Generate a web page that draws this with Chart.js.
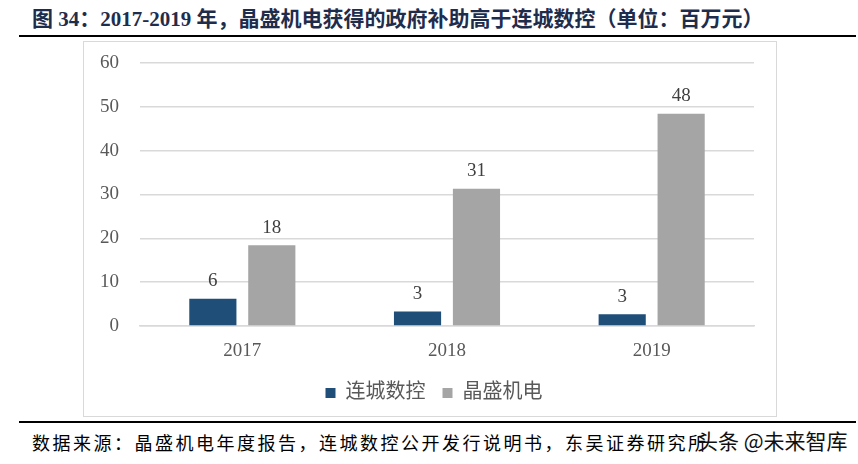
<!DOCTYPE html>
<html>
<head>
<meta charset="utf-8">
<script src="https://cdn.jsdelivr.net/npm/chart.js@4"></script>
<style>
  body { margin: 0; background: #fff; width: 858px; height: 464px; position: relative; overflow: hidden; }
  #title { position: absolute; left: 32px; top: 2px; font: bold 21px 'Liberation Serif', 'Noto Sans CJK SC'; color: #1f2d4d; white-space: nowrap; }
  .rule { position: absolute; left: 19px; right: 2px; height: 2px; background: #000; }
  #frame { position: absolute; left: 83px; top: 41px; width: 694px; height: 376px; border: 1px solid #d9d9d9; box-sizing: border-box; }
  #frame canvas { position: absolute; left: 0; top: 0; }
  #source { position: absolute; left: 32px; top: 429px; font: 18px 'Liberation Serif', 'Noto Sans CJK SC'; letter-spacing: 2.5px; color: #000; white-space: nowrap; }
  #mark { position: absolute; left: 697px; top: 425px; font: 21px 'Noto Sans CJK SC', sans-serif; color: #111; white-space: nowrap; }
</style>
</head>
<body>
<div id="title">图 34：2017-2019 年，晶盛机电获得的政府补助高于连城数控（单位：百万元）</div>
<div class="rule" style="top:35px"></div>
<div id="frame"><canvas id="c" width="692" height="374"></canvas></div>
<div class="rule" style="top:421px"></div>
<div id="source">数据来源：晶盛机电年度报告，连城数控公开发行说明书，东吴证券研究所</div>
<div id="mark">头条 @未来智库</div>
<script>
// data
const years = ['2017', '2018', '2019'];
const lianchengValues = [6.2, 3.3, 2.7];
const jingshengValues = [18.4, 31.3, 48.4];
const seriesNames = ['连城数控', '晶盛机电'];
const yTicks = [0, 10, 20, 30, 40, 50, 60];

const serif = "'Liberation Serif', 'Noto Sans CJK SC'";

// value labels above the bars
const valueLabels = {
    id: 'valueLabels',
    afterDatasetsDraw(chart) {
        const ctx = chart.ctx;
        ctx.save();
        ctx.font = '19px ' + serif;
        ctx.fillStyle = '#404040';
        ctx.textAlign = 'center';
        ctx.textBaseline = 'bottom';
        chart.data.datasets.forEach((ds, i) => {
            chart.getDatasetMeta(i).data.forEach((bar, j) => {
                ctx.fillText(Math.round(ds.data[j]), bar.x, bar.y - 8);
            });
        });
        ctx.restore();
    }
};

// nudge the legend a bit to the right, it sits centred under the bars
const legendShift = {
    id: 'legendShift',
    afterLayout(chart) {
        if (chart.legend) {
            chart.legend.left += 15;
            chart.legend.right += 15;
        }
    }
};

new Chart(document.getElementById('c').getContext('2d'), {
    type: 'bar',
    data: {
        labels: years,
        datasets: [{
            label: seriesNames[0],
            data: lianchengValues,
            backgroundColor: '#1f4e79',
            categoryPercentage: 0.576,
            barPercentage: 0.8
        }, {
            label: seriesNames[1],
            data: jingshengValues,
            backgroundColor: '#a5a5a5',
            categoryPercentage: 0.576,
            barPercentage: 0.8
        }]
    },
    options: {
        responsive: false,
        animation: false,
        events: [],
        layout: { padding: { left: 0, right: 22, top: 21, bottom: 3 } },
        plugins: {
            tooltip: { enabled: false },
            legend: {
                position: 'bottom',
                labels: {
                    boxWidth: 10,
                    boxHeight: 10,
                    padding: 17,
                    color: '#595959',
                    font: { size: 20, family: serif }
                }
            }
        },
        scales: {
            x: {
                grid: { display: false, drawTicks: false },
                border: { color: '#d9d9d9', width: 1.5 },
                ticks: { color: '#595959', padding: 14, font: { size: 19, family: serif } },
                afterFit(axis) { axis.height = 40; }
            },
            y: {
                min: 0,
                max: 60,
                afterBuildTicks(axis) { axis.ticks = yTicks.map(v => ({ value: v })); },
                grid: { color: '#d9d9d9', lineWidth: 1.5, drawTicks: false },
                border: { display: false },
                ticks: { color: '#595959', padding: 21, font: { size: 19, family: serif } },
                afterFit(axis) {
                    axis.width = 56;
                    axis.paddingTop = 0;
                    axis.paddingBottom = 0;
                }
            }
        }
    },
    plugins: [valueLabels, legendShift]
});
</script>
</body>
</html>
